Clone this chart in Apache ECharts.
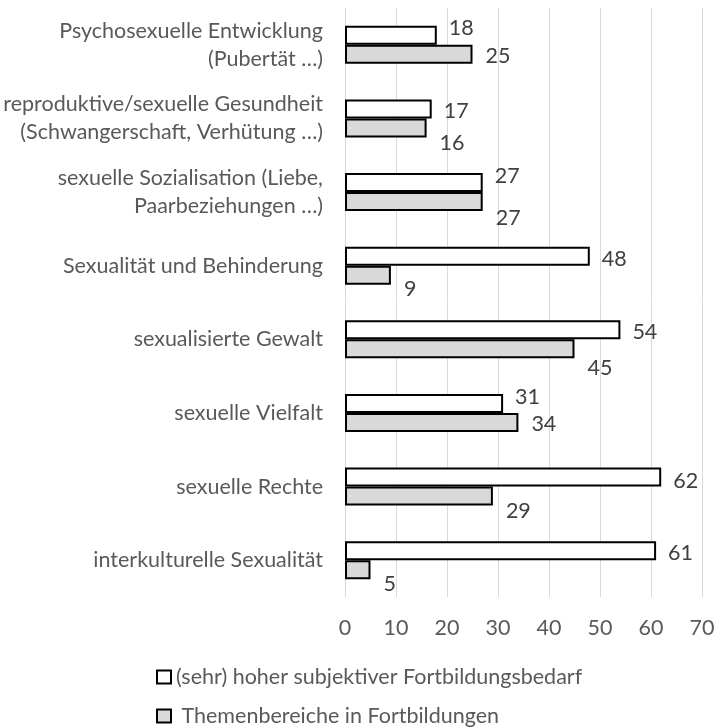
<!DOCTYPE html>
<html>
<head>
<meta charset="utf-8">
<script src="https://cdn.jsdelivr.net/npm/echarts@6/dist/echarts.min.js"></script>
<style>
html,body{margin:0;padding:0;background:#fff;}
#chart{width:714px;height:728px;}
</style>
</head>
<body>
<div id="chart"></div>
<script>
// ---- data ----
const categories = [
  'Psychosexuelle Entwicklung\n(Pubertät …)',
  'reproduktive/sexuelle Gesundheit\n(Schwangerschaft, Verhütung …)',
  'sexuelle Sozialisation (Liebe,\nPaarbeziehungen …)',
  'Sexualität und Behinderung',
  'sexualisierte Gewalt',
  'sexuelle Vielfalt',
  'sexuelle Rechte',
  'interkulturelle Sexualität'
];
const seriesNames = [
  '(sehr) hoher subjektiver Fortbildungsbedarf',
  'Themenbereiche in Fortbildungen'
];
const bedarfValues = [18, 17, 27, 48, 54, 31, 62, 61];
const themenValues = [25, 16, 27, 9, 45, 34, 29, 5];
const xTicks = [0, 10, 20, 30, 40, 50, 60, 70];

// ---- style: vertical nudges of the data labels (px) ----
const bedarfLabelNudge = [-7, 2.5, -7, 3, 2.5, -6, 3.5, 2];
const themenLabelNudge = [2, 15, 16, 13.5, 19, 2, 14.5, 14];

const FONT = 'Lato';
const FS = 21.5;

function withNudge(values, nudge) {
  return values.map((v, i) => ({ value: v, label: { offset: [0, nudge[i]] } }));
}

const legendCommon = {
  orient: 'vertical', left: 156, padding: 0,
  itemWidth: 14, itemHeight: 13, itemGap: 5, icon: 'rect',
  textStyle: { fontFamily: FONT, fontSize: FS, color: '#595959', lineHeight: 24 }
};

const chart = echarts.init(document.getElementById('chart'), null, { renderer: 'canvas' });
chart.setOption({
  animation: false,
  backgroundColor: '#ffffff',
  textStyle: { fontFamily: FONT },
  grid: { left: 345, right: 12, top: 8, bottom: 131, containLabel: false, outerBoundsMode: 'none' },
  legend: [
    Object.assign({}, legendCommon, { data: [seriesNames[0]], top: 665 }),
    Object.assign({}, legendCommon, { data: [seriesNames[1]], top: 704, formatter: n => ' ' + n })
  ],
  xAxis: {
    type: 'value',
    min: xTicks[0], max: xTicks[xTicks.length - 1], interval: xTicks[1] - xTicks[0],
    axisLine: { show: false },
    axisTick: { show: false },
    splitLine: { show: true, lineStyle: { color: '#d9d9d9', width: 1 } },
    axisLabel: { fontFamily: FONT, fontSize: FS, color: '#595959', margin: 20 }
  },
  yAxis: {
    type: 'category',
    inverse: true,
    data: categories,
    axisLine: { show: false },
    axisTick: { show: false },
    axisLabel: { fontFamily: FONT, fontSize: FS, color: '#595959', margin: 22, lineHeight: 28, align: 'right' }
  },
  series: [
    {
      name: seriesNames[0], type: 'bar', barWidth: 19, barGap: '0%',
      data: withNudge(bedarfValues, bedarfLabelNudge),
      itemStyle: { color: '#ffffff', borderColor: '#000000', borderWidth: 2 },
      label: { show: true, position: 'right', distance: 12, fontFamily: FONT, fontSize: FS, color: '#404040' }
    },
    {
      name: seriesNames[1], type: 'bar', barWidth: 19, barGap: '0%',
      data: withNudge(themenValues, themenLabelNudge),
      itemStyle: { color: '#d9d9d9', borderColor: '#000000', borderWidth: 2 },
      label: { show: true, position: 'right', distance: 13, fontFamily: FONT, fontSize: FS, color: '#404040' }
    }
  ]
});
</script>
</body>
</html>
